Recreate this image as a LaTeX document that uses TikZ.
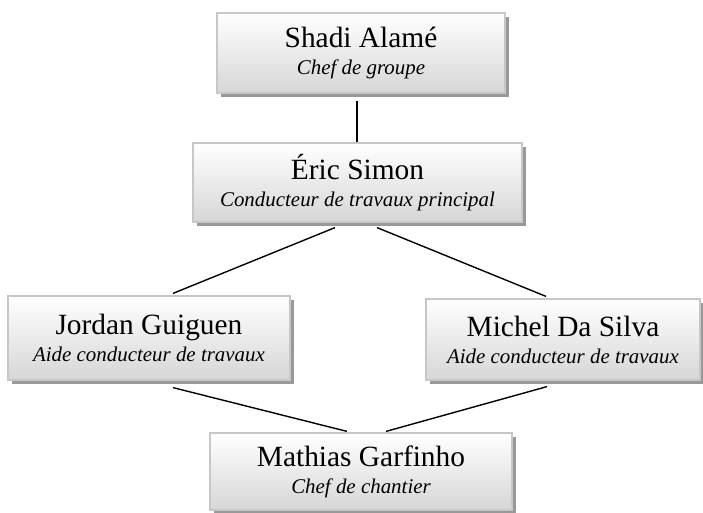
\documentclass[tikz,border=0pt]{standalone}
\usepackage{fontspec}
\setmainfont{Liberation Serif}
\usetikzlibrary{shadows,calc}
\begin{document}
\begin{tikzpicture}[x=1bp,y=-1bp,
  person/.style={rectangle, draw=black!22, line width=1.2bp,
    top color=white, bottom color=black!16,
    drop shadow={shadow xshift=4bp, shadow yshift=-4bp, fill=black!40, opacity=1},
    align=center, inner sep=0pt, font=\fontsize{29.5}{23}\selectfont},
  link/.style={line width=1.4bp, black}]
\useasboundingbox (0,0) rectangle (703,513);
\newcommand{\rolefont}{\fontsize{21}{23}\selectfont\itshape}
\node[person, minimum width=288bp, minimum height=80bp] (b1) at (361,53)
  {Shadi Alamé\\[4bp]{\rolefont Chef de groupe}};
\node[person, minimum width=329bp, minimum height=79bp] (b2) at (357.5,182.5)
  {Éric Simon\\[4bp]{\rolefont Conducteur de travaux principal}};
\node[person, minimum width=282bp, minimum height=84bp] (b3) at (149,338)
  {Jordan Guiguen\\[4bp]{\rolefont Aide conducteur de travaux}};
\node[person, minimum width=274bp, minimum height=81bp] (b4) at (563,339.5)
  {Michel Da Silva\\[4bp]{\rolefont Aide conducteur de travaux}};
\node[person, minimum width=302bp, minimum height=77bp] (b5) at (361,471.5)
  {Mathias Garfinho\\[4bp]{\rolefont Chef de chantier}};
\draw[link] ($(b1.south)+(-4,7)$) -- ($(b2.north)+(-0.5,0)$);
\draw[link] ($(b2.south)+(-22.5,5)$) -- ($(b3.north)+(24,-2)$);
\draw[link] ($(b2.south)+(19.5,5)$) -- ($(b4.north)+(-17,-2)$);
\draw[link] ($(b3.south)+(24,7)$) -- ($(b5.north)+(-14,-1)$);
\draw[link] ($(b4.south)+(-16,6)$) -- ($(b5.north)+(25,-1)$);
\end{tikzpicture}
\end{document}
